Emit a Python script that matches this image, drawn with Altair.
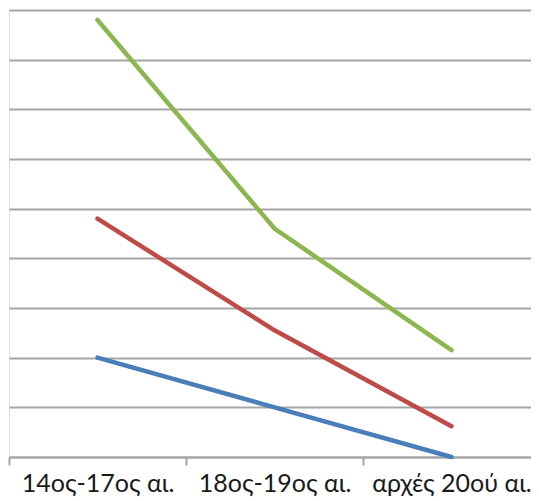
import altair as alt
import pandas as pd

periods = ["14ος-17ος αι.", "18ος-19ος αι.", "αρχές 20ού αι."]
series_names = ["Μπλε", "Κόκκινη", "Πράσινη"]
blue_vals = [2.0, 1.0, 0.0]
red_vals = [4.8, 2.55, 0.62]
green_vals = [8.8, 4.6, 2.15]
colors = ["#4a7ebb", "#be4b48", "#8cb64f"]

rows = []
for name, vals in zip(series_names, [blue_vals, red_vals, green_vals]):
    for p, v in zip(periods, vals):
        rows.append({"period": p, "series": name, "value": v})
df = pd.DataFrame(rows)

chart = alt.Chart(df).mark_line(strokeWidth=4.5, strokeCap="round").encode(
    x=alt.X("period:N", sort=periods, title=None,
            scale=alt.Scale(paddingInner=0, paddingOuter=0, range=[0, 531]),
            axis=alt.Axis(labelAngle=0, tickBand="extent", labelFontSize=25,
                          labelFont="Lato", labelColor="#1a1a1a",
                          domainColor="#a6a6a6", domainWidth=2,
                          tickColor="#a6a6a6", tickWidth=2, tickSize=8,
                          labelPadding=6, grid=False, labelBound=False,
                          labelOverlap=False)),
    y=alt.Y("value:Q", title=None,
            scale=alt.Scale(domain=[0, 9], nice=False),
            axis=alt.Axis(values=list(range(0, 10)), labels=False, ticks=False,
                          domain=False, gridColor="#a6a6a6", gridWidth=2)),
    color=alt.Color("series:N", sort=series_names,
                    scale=alt.Scale(domain=series_names, range=colors), legend=None),
).properties(
    width=522, height=447,
    autosize=alt.AutoSizeParams(type="none"),
    padding={"left": 1, "top": 2, "right": 0, "bottom": 40},
).configure_view(stroke=None).configure(background="white")

chart.save("out.html", embed_options={"renderer": "svg", "actions": False})
